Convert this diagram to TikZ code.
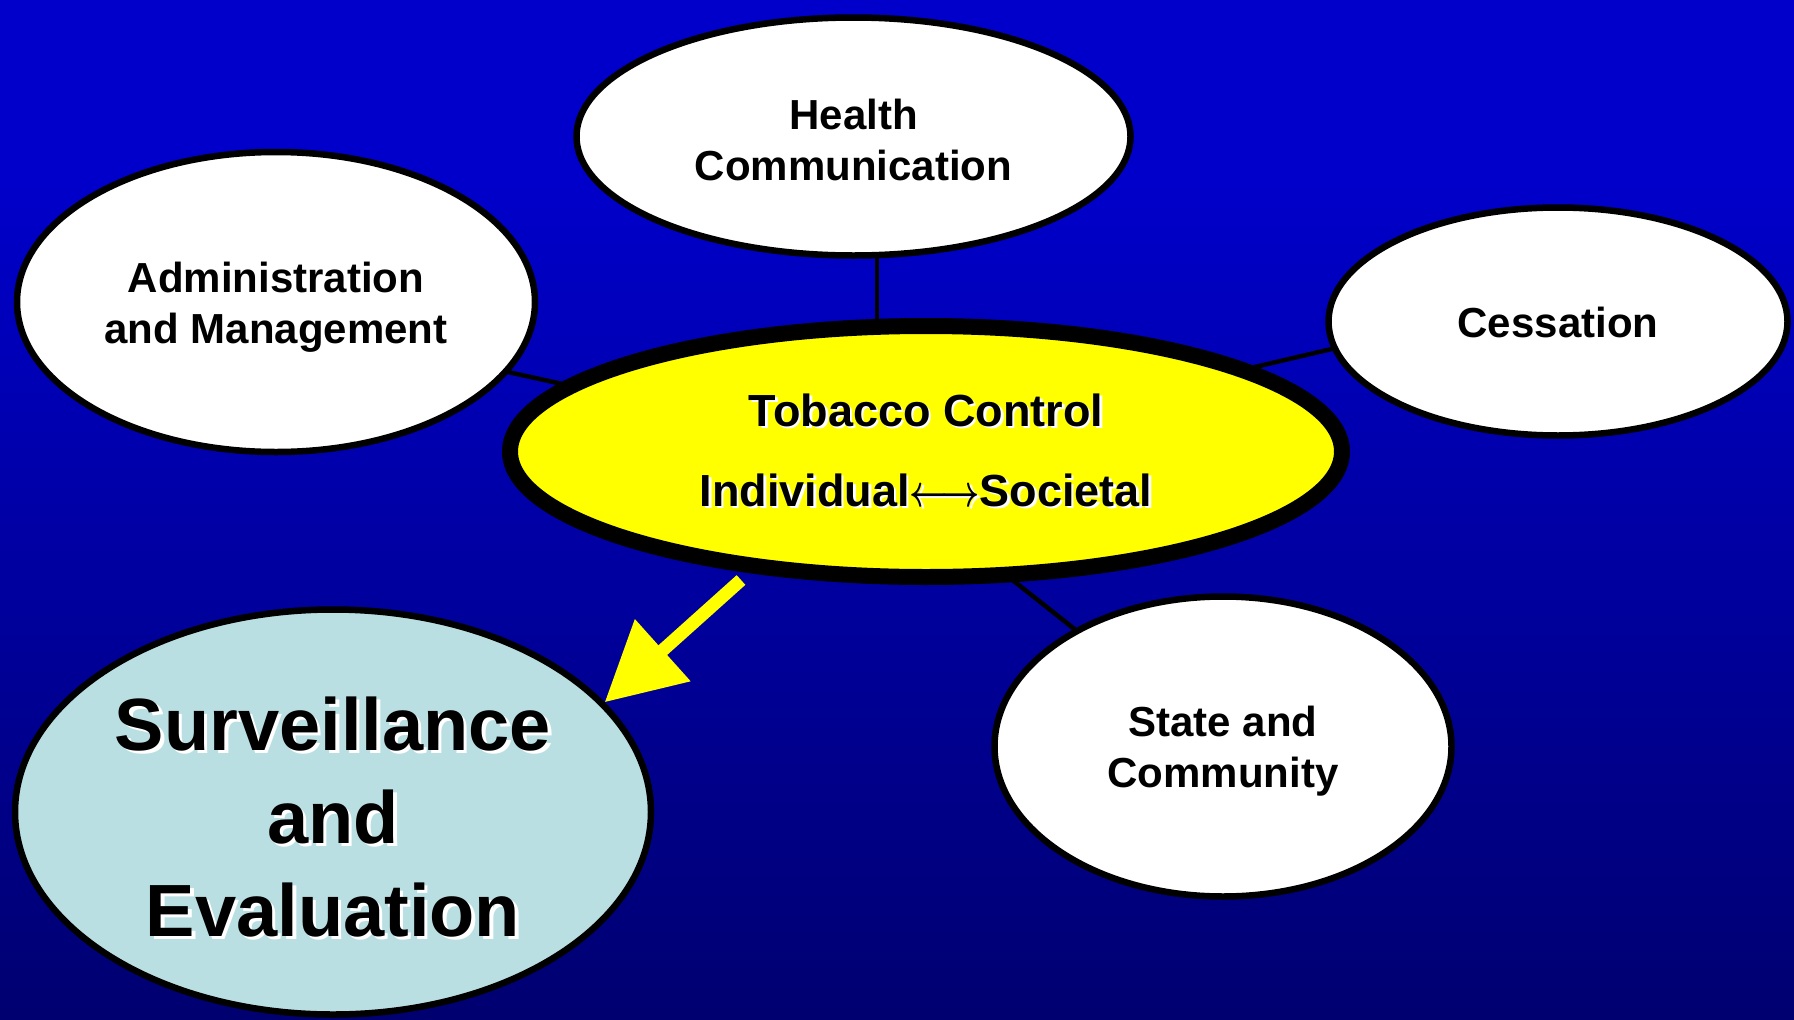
\RequirePackage{fix-cm}
\documentclass[tikz,border=0pt]{standalone}
\usepackage{graphicx}
\usepackage{fontspec}
\setmainfont{Liberation Sans}
\usetikzlibrary{shapes.geometric,arrows.meta,backgrounds}
\definecolor{bgtop}{RGB}{0,0,202}
\definecolor{bgbot}{RGB}{0,0,112}
\definecolor{tcyel}{RGB}{255,255,0}
\definecolor{survfill}{RGB}{185,223,227}
\newcommand\shtx[2]{\leavevmode\rlap{\kern#1pt\raisebox{-#1pt}{\color{white}#2}}#2}
\newcommand\topup[1]{\rule{0pt}{#1}}
\newcommand\lrarrow{\scalebox{0.74}[1]{\boldmath$\longleftrightarrow$}}
\pgfdeclareverticalshading{bgshade}{100bp}{color(0bp)=(bgbot); color(25bp)=(bgbot); color(66bp)=(bgtop); color(100bp)=(bgtop)}
\tikzset{
  bubble/.style={ellipse, draw=black, line width=6.5pt, fill=white, inner sep=0pt,
    align=center, text=black, font=\bfseries\fontsize{42}{51}\selectfont},
  link/.style={draw=black, line width=4.5pt},
  bigarrow/.style={draw=tcyel, line width=13pt, -{Triangle[width=80pt,length=78pt]}},
}
\begin{document}
\begin{tikzpicture}[x=1pt,y=-1pt]
\useasboundingbox (0,0) rectangle (1794,1020);
\begin{scope}[on background layer]
  \shade[shading=bgshade] (0,0) rectangle (1794,1020);
\end{scope}

\node[bubble, minimum width=554pt, minimum height=238pt] (health) at (853.5,136.5)
  {\topup{40pt}\shtx{2.5}{Health}\\\shtx{2.5}{Communication}};
\node[bubble, minimum width=518pt, minimum height=300pt] (admin) at (276,302)
  {\topup{43pt}\shtx{2.5}{Administration}\\\shtx{2.5}{and Management}};
\node[bubble, minimum width=459pt, minimum height=228pt] (cess) at (1558,321.5)
  {\topup{35pt}\shtx{2.5}{Cessation}};
\node[bubble, minimum width=457pt, minimum height=300pt] (state) at (1223,746.5)
  {\topup{43pt}\shtx{2.5}{State and}\\\shtx{2.5}{Community}};
\node[bubble, fill=survfill, minimum width=636pt, minimum height=405pt,
  font=\bfseries\fontsize{74}{93}\selectfont] (surv) at (333,812)
  {\topup{67pt}\shtx{3.5}{Surveillance}\\\shtx{3.5}{and}\\\shtx{3.5}{Evaluation}};
\node[bubble, fill=tcyel, line width=16pt, minimum width=832pt, minimum height=251pt,
  font=\bfseries\fontsize{45}{80}\selectfont] (central) at (926,451.5)
  {\shtx{2.5}{Tobacco Control}\\\shtx{2.5}{Individual\lrarrow Societal}};

\begin{scope}[on background layer]
  \draw[link] ([xshift=23.5pt]health.center) -- ([xshift=-49pt]central.center);
  \draw[link] ([yshift=-19pt]admin.center) -- ([yshift=-12.5pt]central.center);
  \draw[link] ([yshift=25.5pt]cess.center) -- ([yshift=7.5pt]central.center);
  \draw[link] (state.center) -- ([xshift=-76pt]central.center);
\end{scope}

\coordinate (arrowtail) at (741,580);
\draw[bigarrow] (arrowtail) -- (surv.22);
\end{tikzpicture}
\end{document}
